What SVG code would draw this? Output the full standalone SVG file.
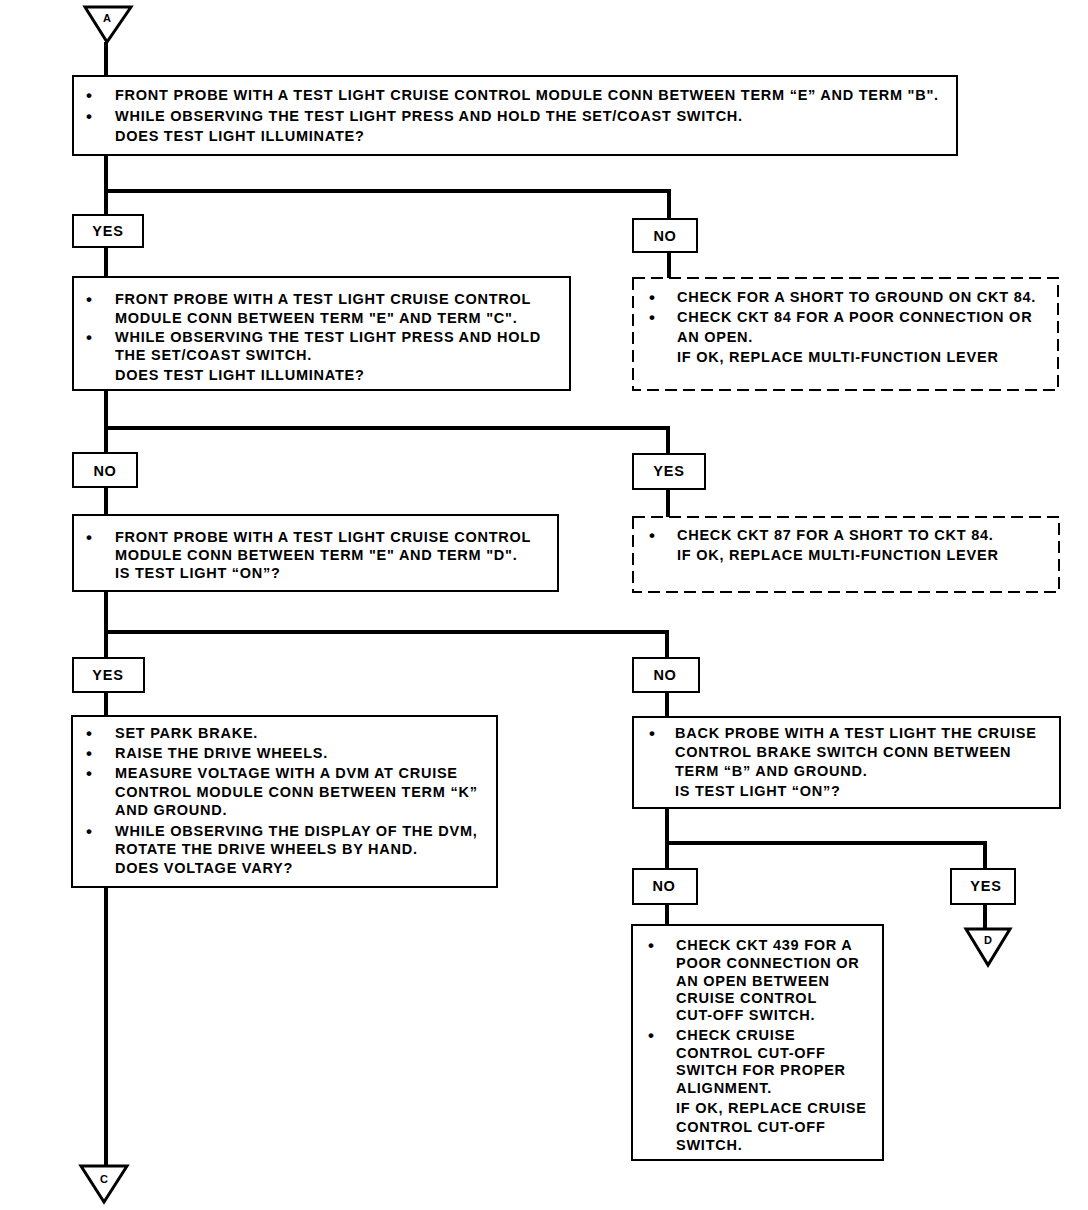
<svg xmlns="http://www.w3.org/2000/svg" width="1088" height="1210" viewBox="0 0 1088 1210">
<style>
.bg{fill:#fff}
.box{fill:#fff;stroke:#000;stroke-width:2}
.dbox{fill:#fff;stroke:#000;stroke-width:2;stroke-dasharray:12 6}
.lbl{fill:#fff;stroke:#000;stroke-width:2}
.tri{fill:#fff;stroke:#000;stroke-width:3;stroke-linejoin:miter}
.wire{fill:none;stroke:#000;stroke-width:4}
text{font-family:"Liberation Sans",Arial,sans-serif;font-weight:bold;font-size:14.5px;letter-spacing:0.75px;fill:#000}
.c{text-anchor:middle}
.s{font-size:11px;letter-spacing:0}
.b{font-size:17px}
</style>
<rect class="bg" x="0" y="0" width="1088" height="1210"/>
<g id="connectors">
<path class="wire" d="M106 42 V1166"/>
<path class="wire" d="M106 191 H669 V220"/>
<path class="wire" d="M669 252 V279"/>
<path class="wire" d="M106 428 H668 V455"/>
<path class="wire" d="M668 489 V518"/>
<path class="wire" d="M106 632 H667 V658"/>
<path class="wire" d="M667 692 V718"/>
<path class="wire" d="M667 808 V869"/>
<path class="wire" d="M667 843 H985 V869"/>
<path class="wire" d="M667 904 V926"/>
<path class="wire" d="M985 904 V929"/>
</g>
<g id="term-A">
<polygon class="tri" points="85,7 131,7 107,42"/>
<text class="c s" x="107" y="22">A</text>
</g>
<g id="box1">
<rect class="box" x="73" y="76" width="884" height="79"/>
<text class="b" x="86" y="101">•</text><text x="115" y="100">FRONT PROBE WITH A TEST LIGHT CRUISE CONTROL MODULE CONN BETWEEN TERM “E” AND TERM "B".</text>
<text class="b" x="86" y="122">•</text><text x="115" y="121">WHILE OBSERVING THE TEST LIGHT PRESS AND HOLD THE SET/COAST SWITCH.</text>
<text x="115" y="141">DOES TEST LIGHT ILLUMINATE?</text>
</g>
<g id="yes1">
<rect class="lbl" x="73" y="215" width="70" height="32"/>
<text class="c" x="108" y="236">YES</text>
</g>
<g id="no1">
<rect class="lbl" x="633" y="219" width="64" height="33"/>
<text class="c" x="665" y="241">NO</text>
</g>
<g id="box2">
<rect class="box" x="73" y="277" width="497" height="113"/>
<text class="b" x="86" y="305">•</text><text x="115" y="304">FRONT PROBE WITH A TEST LIGHT CRUISE CONTROL</text>
<text x="115" y="323">MODULE CONN BETWEEN TERM "E" AND TERM "C".</text>
<text class="b" x="86" y="343">•</text><text x="115" y="342">WHILE OBSERVING THE TEST LIGHT PRESS AND HOLD</text>
<text x="115" y="360">THE SET/COAST SWITCH.</text>
<text x="115" y="380">DOES TEST LIGHT ILLUMINATE?</text>
</g>
<g id="check1">
<rect class="dbox" x="633" y="278" width="425" height="112"/>
<text class="b" x="649" y="303">•</text><text x="677" y="302">CHECK FOR A SHORT TO GROUND ON CKT 84.</text>
<text class="b" x="649" y="323">•</text><text x="677" y="322">CHECK CKT 84 FOR A POOR CONNECTION OR</text>
<text x="677" y="342">AN OPEN.</text>
<text x="677" y="362">IF OK, REPLACE MULTI-FUNCTION LEVER</text>
</g>
<g id="no2">
<rect class="lbl" x="73" y="453" width="64" height="34"/>
<text class="c" x="105" y="476">NO</text>
</g>
<g id="yes2">
<rect class="lbl" x="633" y="454" width="72" height="35"/>
<text class="c" x="669" y="476">YES</text>
</g>
<g id="check2">
<rect class="dbox" x="633" y="517" width="426" height="75"/>
<text class="b" x="649" y="541">•</text><text x="677" y="540">CHECK CKT 87 FOR A SHORT TO CKT 84.</text>
<text x="677" y="560">IF OK, REPLACE MULTI-FUNCTION LEVER</text>
</g>
<g id="box3">
<rect class="box" x="73" y="515" width="485" height="76"/>
<text class="b" x="86" y="543">•</text><text x="115" y="542">FRONT PROBE WITH A TEST LIGHT CRUISE CONTROL</text>
<text x="115" y="560">MODULE CONN BETWEEN TERM "E" AND TERM "D".</text>
<text x="115" y="578">IS TEST LIGHT “ON”?</text>
</g>
<g id="yes3">
<rect class="lbl" x="73" y="658" width="71" height="34"/>
<text class="c" x="108" y="680">YES</text>
</g>
<g id="no3">
<rect class="lbl" x="633" y="658" width="66" height="34"/>
<text class="c" x="665" y="680">NO</text>
</g>
<g id="box4">
<rect class="box" x="72" y="716" width="425" height="171"/>
<text class="b" x="86" y="739">•</text><text x="115" y="738">SET PARK BRAKE.</text>
<text class="b" x="86" y="759">•</text><text x="115" y="758">RAISE THE DRIVE WHEELS.</text>
<text class="b" x="86" y="779">•</text><text x="115" y="778">MEASURE VOLTAGE WITH A DVM AT CRUISE</text>
<text x="115" y="797">CONTROL MODULE CONN BETWEEN TERM “K”</text>
<text x="115" y="815">AND GROUND.</text>
<text class="b" x="86" y="837">•</text><text x="115" y="836">WHILE OBSERVING THE DISPLAY OF THE DVM,</text>
<text x="115" y="854">ROTATE THE DRIVE WHEELS BY HAND.</text>
<text x="115" y="873">DOES VOLTAGE VARY?</text>
</g>
<g id="box5">
<rect class="box" x="633" y="717" width="427" height="91"/>
<text class="b" x="649" y="739">•</text><text x="675" y="738">BACK PROBE WITH A TEST LIGHT THE CRUISE</text>
<text x="675" y="757">CONTROL BRAKE SWITCH CONN BETWEEN</text>
<text x="675" y="776">TERM “B” AND GROUND.</text>
<text x="675" y="796">IS TEST LIGHT “ON”?</text>
</g>
<g id="no4">
<rect class="lbl" x="633" y="869" width="64" height="35"/>
<text class="c" x="664" y="891">NO</text>
</g>
<g id="yes4">
<rect class="lbl" x="951" y="869" width="64" height="35"/>
<text class="c" x="986" y="891">YES</text>
</g>
<g id="term-D">
<polygon class="tri" points="966,929 1010,929 988,965"/>
<text class="c s" x="988" y="944">D</text>
</g>
<g id="box6">
<rect class="box" x="632" y="925" width="251" height="235"/>
<text class="b" x="648" y="951">•</text><text x="676" y="950">CHECK CKT 439 FOR A</text>
<text x="676" y="968">POOR CONNECTION OR</text>
<text x="676" y="986">AN OPEN BETWEEN</text>
<text x="676" y="1003">CRUISE CONTROL</text>
<text x="676" y="1020">CUT-OFF SWITCH.</text>
<text class="b" x="648" y="1041">•</text><text x="676" y="1040">CHECK CRUISE</text>
<text x="676" y="1058">CONTROL CUT-OFF</text>
<text x="676" y="1075">SWITCH FOR PROPER</text>
<text x="676" y="1093">ALIGNMENT.</text>
<text x="676" y="1113">IF OK, REPLACE CRUISE</text>
<text x="676" y="1132">CONTROL CUT-OFF</text>
<text x="676" y="1150">SWITCH.</text>
</g>
<g id="term-C">
<polygon class="tri" points="81,1166 127,1166 104,1202"/>
<text class="c s" x="104" y="1183">C</text>
</g>
</svg>
